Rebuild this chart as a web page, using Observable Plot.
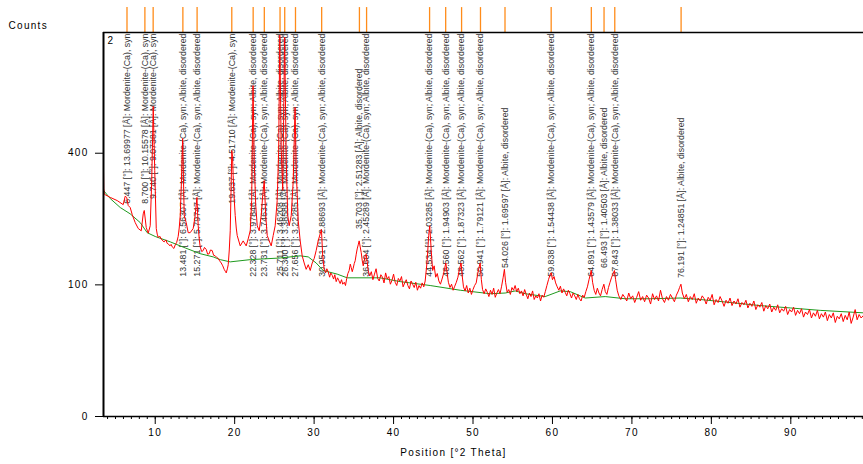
<!DOCTYPE html>
<html><head><meta charset="utf-8">
<script src="https://cdn.jsdelivr.net/npm/d3@7"></script>
<script src="https://cdn.jsdelivr.net/npm/@observablehq/plot@0.6"></script>
<style>
body{margin:0;background:#fff;}
#chart{width:863px;height:464px;}
</style></head><body><div id="chart"></div>
<script>
// ---- peak list ----
const peakPos = [6.447, 8.700, 9.740, 13.481, 15.271, 19.637, 22.328, 23.731, 25.711, 26.300, 27.656, 30.951, 35.703, 36.604, 44.534, 46.560, 48.562, 50.941, 54.026, 59.838, 64.891, 66.493, 67.843, 76.191];
const peakD = ["13.69977","10.15578","9.07381","6.56307","5.79747","4.51710","3.97846","3.74631","3.46208","3.38588","3.22285","2.88693","2.51283","2.45289","2.03285","1.94903","1.87323","1.79121","1.69597","1.54438","1.43579","1.40503","1.38033","1.24851"];
const M = "Mordenite-(Ca), syn", MA = "Mordenite-(Ca), syn; Albite, disordered", A = "Albite, disordered";
const peakPhase = [M, M, M, MA, MA, M, MA, MA, MA, MA, MA, MA, A, MA, MA, MA, MA, MA, A, MA, MA, A, MA, A];

// ---- observed pattern: [position °2θ, counts] ----
const obsPattern = [
[3.49,350],[3.52,300],[3.60,285],[4.34,277],[5.22,269],[5.97,259],[6.22,280],[6.41,277],[6.60,257],[6.85,252],[7.11,235],[7.48,217],[7.86,204],[8.24,199],[8.49,237],[8.62,245],[8.87,206],[9.12,194],[9.37,210],[9.56,321],[9.75,555],[9.94,349],
[10.13,204],[10.25,192],[10.38,185],[10.55,188],[10.76,182],[10.95,178],[11.13,176],[11.35,180],[11.50,173],[11.64,172],[11.85,168],[12.00,171],[12.14,166],[12.35,163],[12.52,170],[12.70,175],[12.89,187],[13.02,205],[13.15,233],[13.30,320],[13.45,446],[13.55,330],[13.65,233],
[13.90,217],[14.15,195],[14.40,195],[14.78,204],[15.03,233],[15.25,277],[15.41,210],[15.55,180],[15.66,166],[15.85,157],[16.04,159],[16.20,165],[16.42,161],[16.60,152],[16.80,153],[16.95,160],[17.17,159],[17.35,150],[17.55,149],[17.75,146],[17.93,144],[18.10,140],[18.31,136],[18.50,131],[18.68,125],[18.85,121],[18.94,119],[19.10,127],[19.19,133],[19.32,160],[19.44,199],[19.54,290],[19.64,408],[19.73,390],[19.81,335],[19.95,270],[20.07,233],[20.20,205],[20.32,189],
[20.70,168],[21.07,178],[21.45,168],[21.70,182],[21.96,199],[22.14,269],[22.31,632],[22.46,378],[22.65,257],[22.84,210],[23.09,199],[23.34,233],[23.53,282],[23.72,321],[23.91,233],[24.10,189],[24.35,178],[24.60,168],[24.85,189],[25.10,210],[25.35,269],[25.54,408],[25.68,840],[25.86,408],[26.05,295],[26.29,830],[26.49,378],[26.68,233],[26.86,210],[27.12,233],[27.37,321],[27.60,551],[27.75,349],[28.00,221],[28.25,178],[28.50,149],[28.75,136],[29.00,125],[29.26,133],[29.51,123],[29.76,136],[30.01,144],[30.26,159],[30.51,178],[30.77,193],[30.92,202],
[31.08,149],[31.27,125],[31.45,119],[31.60,126],[31.77,121],[31.95,112],[32.10,119],[32.28,115],[32.45,109],[32.60,116],[32.78,105],[32.95,111],[33.10,107],[33.28,102],[33.45,108],[33.60,101],[33.80,104],[33.95,99],[34.10,110],[34.25,118],[34.41,123],[34.55,134],[34.67,128],[34.80,121],[34.92,127],[35.05,135],[35.17,140],[35.30,152],[35.42,162],[35.55,170],[35.67,178],[35.80,166],[35.93,155],[36.05,141],[36.18,131],[36.30,139],[36.43,149],[36.55,152],[36.68,138],
[36.80,123],[37.00,114],[37.20,121],[37.40,108],[37.60,117],[37.80,126],[38.00,110],[38.20,106],[38.40,116],[38.60,112],[38.80,103],[39.00,119],[39.20,109],[39.40,113],[39.60,101],[39.80,107],[40.00,117],[40.20,104],[40.40,99],[40.60,110],[40.80,106],[41.00,113],[41.20,97],[41.40,103],[41.60,108],[41.80,99],[42.00,94],[42.20,106],[42.40,101],[42.60,96],[42.80,104],[43.00,92],[43.20,99],[43.40,95],[43.60,103],[43.80,97],[43.98,106],
[44.23,140],[44.42,189],[44.55,210],[44.74,159],[44.92,123],[45.11,131],[45.30,112],[45.50,118],[45.70,106],[45.90,101],[46.10,109],[46.30,118],[46.45,128],[46.58,136],[46.74,119],[46.90,104],[47.10,96],[47.30,101],[47.50,92],[47.70,98],[47.90,104],[48.10,112],[48.30,126],[48.50,136],[48.64,114],[48.80,97],[49.00,91],[49.20,99],[49.40,88],[49.60,95],[49.80,86],[50.00,93],[50.20,99],[50.40,103],[50.60,118],[50.75,128],[50.90,136],[51.05,108],[51.20,93],[51.40,87],[51.60,94],[51.80,89],[52.00,83],[52.20,92],[52.40,86],[52.60,95],[52.80,82],[53.00,88],[53.20,93],[53.40,87],[53.60,98],[53.80,112],[53.95,125],[54.10,104],[54.30,89],[54.50,93],[54.70,86],[54.90,96],[55.10,92],[55.30,99],[55.50,90],[55.70,95],[55.90,87],[56.10,91],[56.30,84],[56.50,93],[56.70,86],[56.90,80],[57.10,88],[57.30,83],[57.50,91],[57.70,79],[57.90,84],[58.10,81],[58.30,87],[58.50,77],[58.70,85],[58.90,82],[59.10,90],[59.30,99],[59.50,108],[59.70,116],[59.85,119],[60.00,108],[60.20,113],[60.40,103],[60.60,97],[60.80,92],[61.00,98],[61.20,88],[61.40,94],[61.60,89],[61.80,84],[62.00,92],[62.20,87],[62.40,81],[62.60,88],[62.80,84],[63.00,79],[63.20,86],[63.40,80],[63.60,77],[63.80,85],[64.00,82],[64.20,90],[64.40,97],[64.60,108],[64.88,123],[65.05,104],[65.25,92],[65.45,86],[65.65,95],[65.85,88],[66.05,84],[66.25,93],[66.47,101],[66.65,90],[66.85,86],[67.05,96],[67.25,104],[67.45,112],[67.65,118],[67.80,123],[67.95,108],[68.15,92],[68.35,84],
[68.60,79],[68.85,86],[69.10,82],[69.35,77],[69.60,88],[69.85,80],[70.10,84],[70.35,75],[70.60,82],[70.85,90],[71.10,78],[71.35,83],[71.60,76],[71.85,85],[72.10,81],[72.35,73],[72.60,87],[72.85,79],[73.10,84],[73.35,77],[73.60,92],[73.85,80],[74.10,75],[74.35,83],[74.60,78],[74.85,86],[75.10,81],[75.35,76],[75.60,85],[75.85,91],[76.00,96],[76.17,101],[76.35,88],[76.60,80],[76.85,86],[77.10,76],[77.35,83],[77.60,79],[77.85,87],[78.10,74],[78.35,81],[78.60,77],[78.85,84],[79.10,80],[79.35,73],[79.60,82],[79.85,78],[80.10,86],[80.35,72],[80.60,79],[80.85,75],[81.10,83],[81.35,77],[81.60,70],[81.85,78],[82.10,74],[82.35,81],[82.60,71],[82.85,77],[83.10,73],[83.35,80],[83.60,69],[83.85,75],[84.10,72],[84.35,78],[84.60,68],[84.85,74],[85.10,70],[85.35,77],[85.60,66],[85.85,72],[86.10,69],[86.35,75],[86.60,64],[86.85,71],[87.10,67],[87.35,73],[87.60,63],[87.85,69],[88.10,65],[88.35,72],[88.60,62],[88.85,67],[89.10,64],[89.35,70],[89.60,60],[89.85,66],[90.10,63],[90.35,69],[90.60,59],[90.85,65],[91.10,61],[91.35,67],[91.60,57],[91.85,63],[92.10,60],[92.35,66],[92.60,56],[92.85,62],[93.10,58],[93.35,65],[93.60,55],[93.85,61],[94.10,57],[94.35,63],[94.60,53],[94.85,60],[95.10,56],[95.35,62],[95.60,51],[95.85,58],[96.10,55],[96.35,61],[96.60,52],[96.85,59],[97.10,54],[97.35,63],[97.60,50],[97.85,57],[98.10,66],[98.35,54],[98.60,60],[98.85,56],[99.15,59]
];

// ---- fitted background ----
const bgTheta = [3.49,4.34,5.60,6.85,8.11,8.99,10.00,11.89,13.78,15.66,17.30,18.18,19.44,21.96,25.74,28.25,29.26,30.26,31.14,32.90,34.16,38.31,40.83,44.61,48.39,52.16,54.05,55.31,56.57,59.08,60.97,62.23,64.12,66.64,69.15,72.30,76.08,78.60,82.37,86.15,89.93,93.70,99.15];
const bgCounts = [295,274,252,237,217,195,187,176,164,153,147,142,138,142,145,149,147,136,123,117,111,111,105,99,92,87,88,91,87,83,91,90,81,83,80,80,81,79,75,71,68,65,62];

// ---- axes ----
const xTicks = [10,20,30,40,50,60,70,80,90];
const yTicks = [0,100,400];
const xLabel = "Position [°2 Theta]";
const yLabel = "Counts";
const panelNo = "2";

const obs = obsPattern.map(([t, c]) => ({t, c}));
const bg = bgTheta.map((t, i) => ({t, c: bgCounts[i]}));
const peaks = peakPos.map((p, i) => ({p, label: `${p.toFixed(3)} [°]: ${peakD[i]} [Å]: ${peakPhase[i]}`}));
const labelDrop = {"35.703": 36, "54.026": 75, "66.493": 75, "76.191": 85};
const dropOf = d => labelDrop[d.p.toFixed(3)] ?? 1;
const drops = [...new Set(peaks.map(dropOf))];
const xMin = 3.49, xMax = 99.15, yMax = 851;

const labelMarks = drops.map(dr => Plot.text(peaks.filter(d => dropOf(d) === dr), {
  x: "p", y: yMax, text: "label", rotate: -90, textAnchor: "end", dy: dr,
  fontSize: 8.8, fill: "#333", clip: true
}));

const chart = Plot.plot({
  width: 863, height: 464,
  marginLeft: 103, marginRight: 0, marginTop: 32, marginBottom: 48,
  style: {fontFamily: "'Liberation Sans', Arial, sans-serif", color: "#000", background: "#fff"},
  x: {domain: [xMin, xMax]},
  y: {type: "sqrt", domain: [0, yMax]},
  marks: [
    ...labelMarks,
    Plot.ruleX(peakPos, {y1: yMax, y2: 965, stroke: "#ff8c1a", strokeWidth: 1.3}),
    Plot.line(bg, {x: "t", y: "c", stroke: "#1f9a1f", strokeWidth: 1, clip: true}),
    Plot.line(obs, {x: "t", y: "c", stroke: "#ff0000", strokeWidth: 1, clip: true}),
    Plot.axisX(d3.range(4, 100), {anchor: "bottom", tickSize: 3, tickFormat: () => "", label: null}),
    Plot.axisX(xTicks, {anchor: "bottom", tickSize: 8, tickPadding: 4, fontSize: 10, label: null}),
    Plot.axisY(yTicks, {anchor: "left", tickSize: 8, tickPadding: 7, fontSize: 10, label: null}),
    Plot.ruleY([yMax], {stroke: "#000", strokeWidth: 1.5}),
    Plot.ruleY([0], {stroke: "#000", strokeWidth: 1.5}),
    Plot.ruleX([xMin], {stroke: "#000", strokeWidth: 2}),
    Plot.text([panelNo], {frameAnchor: "top-left", dx: 4, dy: 4, lineAnchor: "top", fontSize: 10, fill: "#000"}),
    Plot.text([yLabel], {frameAnchor: "top-left", dx: -95, dy: -11, textAnchor: "start", fontSize: 10, fill: "#000"}),
    Plot.text([xLabel], {frameAnchor: "bottom", dx: -30, dy: 39, fontSize: 10, fill: "#000"})
  ]
});
// spaced lettering for axis texts only
d3.select(chart).selectAll('g[aria-label$="tick label"] text').style("letter-spacing", "1.3px");
d3.select(chart).selectAll("text").filter(function() { const t = this.textContent; return t === xLabel || t === yLabel; }).style("letter-spacing", "1.3px");
document.getElementById("chart").appendChild(chart);
</script>
</body></html>
